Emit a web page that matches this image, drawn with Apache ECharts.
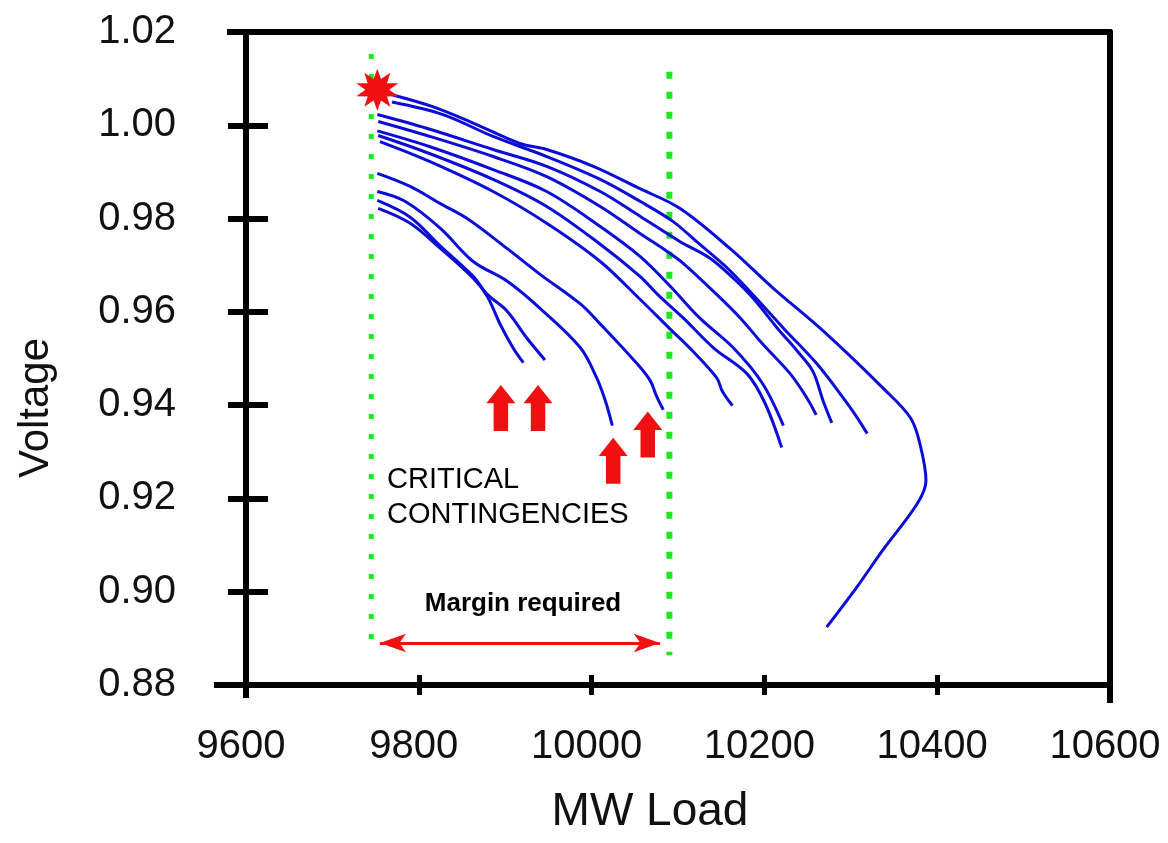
<!DOCTYPE html>
<html><head><meta charset="utf-8">
<script src="https://cdn.jsdelivr.net/npm/echarts@6/dist/echarts.min.js"></script>
<style>html,body{margin:0;padding:0;background:#fff}#c{width:1168px;height:843px}</style>
</head><body><div id="c"></div>
<script>
// ---- axis ticks ----
const xTicks = [9600, 9800, 10000, 10200, 10400, 10600];
const yTicks = [0.88, 0.90, 0.92, 0.94, 0.96, 0.98, 1.00, 1.02];

// ---- PV curves (MW load, voltage), one per contingency ----
const curveA = [[9753,0.9822],[9790,0.9790],[9825,0.9736],[9863,0.9672],[9879,0.9634],[9894,0.9574],[9909,0.9523],[9921,0.9491]];
const curveB = [[9752,0.9839],[9790,0.9803],[9825,0.9741],[9863,0.9676],[9879,0.9638],[9902,0.9602],[9925,0.9544],[9946,0.9497]];
const curveC = [[9752,0.9858],[9784,0.9837],[9825,0.9779],[9863,0.9708],[9902,0.9666],[9940,0.9608],[9987,0.9523],[10006,0.9458],[10016,0.9409],[10024,0.9356]];
const curveD = [[9752,0.9897],[9790,0.9869],[9825,0.9832],[9856,0.9800],[9902,0.9736],[9940,0.9681],[9987,0.9617],[10010,0.9574],[10053,0.9488],[10068,0.9452],[10075,0.9420],[10083,0.9390]];
const curveE = [[9755,0.9965],[9813,0.9922],[9886,0.9858],[9948,0.9790],[10010,0.9708],[10056,0.9627],[10091,0.9563],[10117,0.9516],[10145,0.9458],[10151,0.9431],[10163,0.9399]];
const curveF = [[9752,0.9988],[9813,0.9954],[9886,0.9905],[9948,0.9858],[10010,0.9783],[10056,0.9719],[10091,0.9655],[10125,0.9587],[10164,0.9523],[10198,0.9446],[10222,0.9356]];
const curveG = [[9753,0.9978],[9813,0.9939],[9886,0.9884],[9948,0.9826],[10010,0.9745],[10056,0.9676],[10076,0.9638],[10106,0.9587],[10141,0.9523],[10180,0.9467],[10201,0.9403],[10220,0.9309]];
const curveH = [[9753,1.0008],[9813,0.9976],[9886,0.9933],[9948,0.9890],[10010,0.9826],[10056,0.9768],[10087,0.9730],[10106,0.9704],[10141,0.9644],[10172,0.9587],[10198,0.9531],[10230,0.9467],[10249,0.9416],[10260,0.9379]];
const curveI = [[9752,1.0023],[9810,0.9993],[9886,0.9948],[9948,0.9912],[10010,0.9858],[10056,0.9805],[10102,0.9751],[10137,0.9715],[10164,0.9672],[10187,0.9629],[10215,0.9565],[10238,0.9516],[10256,0.9473],[10268,0.9409],[10278,0.9362]];
const curveJ = [[9769,1.0050],[9828,1.0023],[9886,0.9976],[9948,0.9933],[10010,0.9884],[10056,0.9837],[10094,0.9794],[10125,0.9745],[10157,0.9694],[10183,0.9644],[10222,0.9565],[10261,0.9488],[10291,0.9416],[10306,0.9377],[10319,0.9339]];
const curveK = [[9770,1.0065],[9816,1.0040],[9859,1.0008],[9917,0.9961],[9948,0.9948],[10002,0.9912],[10056,0.9864],[10102,0.9822],[10160,0.9736],[10210,0.9651],[10268,0.9559],[10337,0.9437],[10369,0.9373],[10380,0.9317],[10387,0.9238],[10377,0.9189],[10337,0.9089],[10307,0.9010],[10272,0.8924]];

// ---- annotations ----
const basePoint = [[9752, 1.0076]];
const criticalArrows = [[9895, 0.9394], [9938, 0.9394], [10025, 0.9281], [10065, 0.9337]];
const limitLeft = [[9745, 1.0153], [9745, 0.8890]];
const limitRight = [[10090, 1.0115], [10090, 0.8864]];
const marginArrow = [[9755, 0.8890], [10079, 0.8890]];

const curves = [curveA, curveB, curveC, curveD, curveE, curveF, curveG, curveH, curveI, curveJ, curveK];

function starPath(n, r1, r2) {
  let d = '';
  for (let i = 0; i < 2 * n; i++) {
    const a = -Math.PI / 2 + i * Math.PI / n;
    const r = i % 2 ? r2 : r1;
    d += (i ? 'L' : 'M') + (50 + r * Math.cos(a)).toFixed(2) + ',' + (50 + r * Math.sin(a)).toFixed(2);
  }
  return 'path://' + d + 'Z';
}
const upArrow = 'path://M14,0L28,18L21,18L21,45L7,45L7,18L0,18Z';

const FONT = "'Liberation Sans', Arial, Helvetica, sans-serif";
const BLUE = '#0c0cd8';
const GREEN = '#1ee81e';
const RED = '#f01010';

const chart = echarts.init(document.getElementById('c'), null, {renderer: 'canvas'});
const xMin = xTicks[0], xMax = xTicks[xTicks.length - 1], xStep = xTicks[1] - xTicks[0];
const yMin = yTicks[0], yMax = yTicks[yTicks.length - 1], yStep = +(yTicks[1] - yTicks[0]).toFixed(2);

const series = curves.map(c => ({
  type: 'line', data: c, showSymbol: false, smooth: 0.35, silent: true, z: 3,
  lineStyle: {color: BLUE, width: 3}
}));
series.push({
  type: 'line', data: limitLeft, showSymbol: false, silent: true, z: 2,
  lineStyle: {color: GREEN, width: 5, type: [5, 15]}
});
series.push({
  type: 'line', data: limitRight, showSymbol: false, silent: true, z: 2,
  lineStyle: {color: GREEN, width: 6, type: [7, 13]},
  markLine: {
    silent: true, symbol: ['arrow', 'arrow'], symbolSize: [14, 26],
    label: {show: false},
    itemStyle: {color: RED, opacity: 1},
    lineStyle: {color: RED, width: 3, type: 'solid', opacity: 1},
    data: [[{coord: marginArrow[0]}, {coord: marginArrow[1]}]]
  }
});
series.push({
  type: 'scatter', data: criticalArrows, symbol: upArrow, symbolSize: [29, 46], silent: true, z: 4,
  itemStyle: {color: RED, opacity: 1}
});
series.push({
  type: 'scatter', data: basePoint, symbol: starPath(10, 50, 27), symbolSize: 42, silent: true, z: 5,
  itemStyle: {color: RED, opacity: 1}
});

const axisLineStyle = {color: '#000', width: 6};
const option = {
  animation: false,
  backgroundColor: '#fff',
  grid: {left: 246, right: 58, top: 32, bottom: 158},
  xAxis: [
    {type: 'value', position: 'bottom', min: xMin, max: xMax, interval: xStep,
     axisLine: {show: true, lineStyle: axisLineStyle},
     axisTick: {show: true, length: 10, lineStyle: {color: '#000', width: 5}},
     splitLine: {show: false},
     axisLabel: {fontSize: 40, fontFamily: FONT, color: '#111', margin: 42,
                 padding: [0, 10, 0, 0], formatter: v => String(v)}},
    {type: 'value', position: 'bottom', min: xMin, max: xMax, interval: xStep,
     axisLine: {show: false},
     axisTick: {show: true, inside: true, length: 10, lineStyle: {color: '#000', width: 5}},
     splitLine: {show: false}, axisLabel: {show: false}},
    {type: 'value', position: 'top', min: xMin, max: xMax, interval: xStep,
     axisLine: {show: true, lineStyle: axisLineStyle},
     axisTick: {show: false}, splitLine: {show: false}, axisLabel: {show: false}}
  ],
  yAxis: [
    {type: 'value', position: 'left', min: yMin, max: yMax, interval: yStep,
     axisLine: {show: true, lineStyle: axisLineStyle},
     axisTick: {show: true, length: 18, lineStyle: {color: '#000', width: 6}},
     splitLine: {show: false},
     axisLabel: {fontSize: 40, fontFamily: FONT, color: '#111', margin: 70,
                 formatter: v => v.toFixed(2)}},
    {type: 'value', position: 'left', min: yMin, max: yMax, interval: yStep,
     axisLine: {show: false},
     axisTick: {show: true, inside: true, length: 22, lineStyle: {color: '#000', width: 6}},
     splitLine: {show: false}, axisLabel: {show: false}},
    {type: 'value', position: 'right', min: yMin, max: yMax, interval: yStep,
     axisLine: {show: true, lineStyle: axisLineStyle},
     axisTick: {show: false}, splitLine: {show: false}, axisLabel: {show: false}}
  ],
  series: series,
  graphic: [
    {type: 'text', x: 36, y: 408, rotation: Math.PI / 2,
     style: {text: 'Voltage', font: '42px ' + FONT, fill: '#111', align: 'center', verticalAlign: 'middle'}},
    {type: 'text', x: 650, y: 812,
     style: {text: 'MW Load', font: '46px ' + FONT, fill: '#111', align: 'center', verticalAlign: 'middle'}},
    {type: 'text', x: 387, y: 480,
     style: {text: 'CRITICAL', font: '29px ' + FONT, fill: '#000', align: 'left', verticalAlign: 'middle'}},
    {type: 'text', x: 387, y: 515,
     style: {text: 'CONTINGENCIES', font: '29px ' + FONT, fill: '#000', align: 'left', verticalAlign: 'middle'}},
    {type: 'text', x: 523, y: 604,
     style: {text: 'Margin required', font: 'bold 26px ' + FONT, fill: '#000', align: 'center', verticalAlign: 'middle'}},
    // frame overhangs
    {type: 'line', shape: {x1: 214, y1: 685, x2: 246, y2: 685}, style: {stroke: '#000', lineWidth: 6}},
    {type: 'line', shape: {x1: 227, y1: 32, x2: 246, y2: 32}, style: {stroke: '#000', lineWidth: 6}},
    {type: 'line', shape: {x1: 246, y1: 685, x2: 246, y2: 698}, style: {stroke: '#000', lineWidth: 6}},
    {type: 'line', shape: {x1: 1110, y1: 685, x2: 1110, y2: 703}, style: {stroke: '#000', lineWidth: 6}}
  ]
};
chart.setOption(option);
</script>
</body></html>
